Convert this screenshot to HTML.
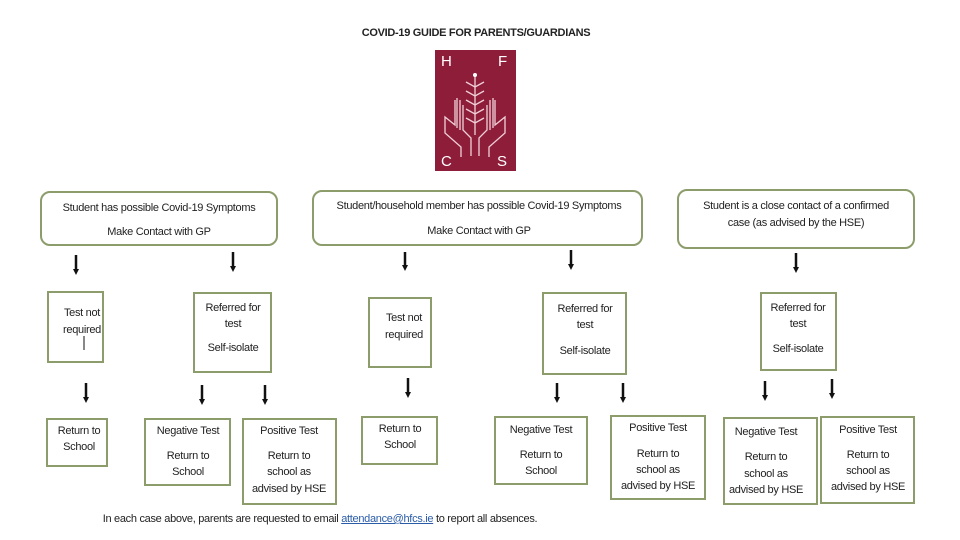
<!DOCTYPE html>
<html><head><meta charset="utf-8"><style>
body{margin:0;width:960px;height:540px;background:#fff;position:relative;overflow:hidden;font-family:"Liberation Sans",sans-serif;color:#222}
.b{position:absolute;border:2px solid #8c9c6a;box-sizing:border-box}
.r{border-radius:10px}
.t{position:absolute;transform:translate(-50%,-50%);white-space:nowrap;font-size:11px;letter-spacing:-0.3px}
a{color:#2a5ca8;text-decoration:underline}
</style></head><body>
<div class="t" style="left:476px;top:33px;font-weight:bold;font-size:11px">COVID-19 GUIDE FOR PARENTS/GUARDIANS</div>

<svg style="position:absolute;left:435px;top:50px" width="81" height="121" viewBox="0 0 81 121">
<rect width="81" height="121" fill="#8e1d3a"/>
<g fill="#fff" font-family="Liberation Sans" font-size="15"><text x="6" y="16">H</text><text x="63" y="16">F</text><text x="6" y="116">C</text><text x="62" y="116">S</text></g>
<g stroke="#f0d0d8" fill="none" stroke-width="1.3">
<line x1="40" y1="26" x2="40" y2="85"/>
<path d="M31 32l9 5 9-5M31 41l9 5 9-5M31 50l9 5 9-5M31 59l9 5 9-5M31 68l9 5 9-5"/>
<path d="M20 50v25l-10-8v16l16 14v10M28 55v25l8 8v18M22 48v30M25 50v30"/>
<path d="M60 50v25l10-8v16l-16 14v10M52 55v25l-8 8v18M58 48v30M55 50v30"/>
</g><circle cx="40" cy="25" r="2" fill="#fff"/>
</svg>

<div class="b r" style="left:40px;top:191px;width:238px;height:55px"></div>
<div class="t" style="left:159px;top:208px">Student has possible Covid-19 Symptoms</div>
<div class="t" style="left:159px;top:232px">Make Contact with GP</div>
<div class="b r" style="left:312px;top:190px;width:331px;height:56px"></div>
<div class="t" style="left:479px;top:206px">Student/household member has possible Covid-19 Symptoms</div>
<div class="t" style="left:479px;top:231px">Make Contact with GP</div>
<div class="b r" style="left:677px;top:189px;width:238px;height:60px"></div>
<div class="t" style="left:796px;top:206px">Student is a close contact of a confirmed</div>
<div class="t" style="left:796px;top:223px">case (as advised by the HSE)</div>

<svg style="position:absolute;left:0;top:0" width="960" height="540">
<defs><marker id="m" markerWidth="6" markerHeight="6" refX="3" refY="3" orient="auto" markerUnits="userSpaceOnUse"><path d="M0,0L6,3L0,6z" fill="#111"/></marker></defs>
<g stroke="#111" stroke-width="2.5" marker-end="url(#m)">
<line x1="76" y1="255" x2="76" y2="272"/><line x1="233" y1="252" x2="233" y2="269"/>
<line x1="405" y1="252" x2="405" y2="268"/><line x1="571" y1="250" x2="571" y2="267"/>
<line x1="796" y1="253" x2="796" y2="270"/>
<line x1="86" y1="383" x2="86" y2="400"/><line x1="202" y1="385" x2="202" y2="402"/>
<line x1="265" y1="385" x2="265" y2="402"/><line x1="408" y1="378" x2="408" y2="395"/>
<line x1="557" y1="383" x2="557" y2="400"/><line x1="623" y1="383" x2="623" y2="400"/>
<line x1="765" y1="381" x2="765" y2="398"/><line x1="832" y1="379" x2="832" y2="396"/>
</g>
<line x1="84" y1="336" x2="84" y2="350" stroke="#111" stroke-width="1"/>
</svg>

<div class="b" style="left:47px;top:291px;width:57px;height:72px"></div>
<div class="t" style="left:82px;top:313px">Test not</div><div class="t" style="left:82px;top:330px">required</div>
<div class="b" style="left:193px;top:292px;width:79px;height:81px"></div>
<div class="t" style="left:233px;top:308px">Referred for</div><div class="t" style="left:233px;top:324px">test</div><div class="t" style="left:233px;top:348px">Self-isolate</div>
<div class="b" style="left:368px;top:297px;width:64px;height:71px"></div>
<div class="t" style="left:404px;top:318px">Test not</div><div class="t" style="left:404px;top:335px">required</div>
<div class="b" style="left:542px;top:292px;width:85px;height:83px"></div>
<div class="t" style="left:585px;top:309px">Referred for</div><div class="t" style="left:585px;top:325px">test</div><div class="t" style="left:585px;top:351px">Self-isolate</div>
<div class="b" style="left:760px;top:292px;width:77px;height:79px"></div>
<div class="t" style="left:798px;top:308px">Referred for</div><div class="t" style="left:798px;top:324px">test</div><div class="t" style="left:798px;top:349px">Self-isolate</div>

<div class="b" style="left:46px;top:418px;width:62px;height:49px"></div>
<div class="t" style="left:79px;top:431px">Return to</div><div class="t" style="left:79px;top:447px">School</div>
<div class="b" style="left:144px;top:418px;width:87px;height:68px"></div>
<div class="t" style="left:188px;top:431px">Negative Test</div><div class="t" style="left:188px;top:456px">Return to</div><div class="t" style="left:188px;top:472px">School</div>
<div class="b" style="left:242px;top:418px;width:95px;height:87px"></div>
<div class="t" style="left:289px;top:431px">Positive Test</div><div class="t" style="left:289px;top:456px">Return to</div><div class="t" style="left:289px;top:472px">school as</div><div class="t" style="left:289px;top:489px">advised by HSE</div>
<div class="b" style="left:361px;top:416px;width:77px;height:49px"></div>
<div class="t" style="left:400px;top:429px">Return to</div><div class="t" style="left:400px;top:445px">School</div>
<div class="b" style="left:494px;top:416px;width:94px;height:69px"></div>
<div class="t" style="left:541px;top:430px">Negative Test</div><div class="t" style="left:541px;top:455px">Return to</div><div class="t" style="left:541px;top:471px">School</div>
<div class="b" style="left:610px;top:415px;width:96px;height:85px"></div>
<div class="t" style="left:658px;top:428px">Positive Test</div><div class="t" style="left:658px;top:454px">Return to</div><div class="t" style="left:658px;top:470px">school as</div><div class="t" style="left:658px;top:486px">advised by HSE</div>
<div class="b" style="left:723px;top:417px;width:95px;height:88px"></div>
<div class="t" style="left:766px;top:432px">Negative Test</div><div class="t" style="left:766px;top:457px">Return to</div><div class="t" style="left:766px;top:474px">school as</div><div class="t" style="left:766px;top:490px">advised by HSE</div>
<div class="b" style="left:820px;top:416px;width:95px;height:88px"></div>
<div class="t" style="left:868px;top:430px">Positive Test</div><div class="t" style="left:868px;top:455px">Return to</div><div class="t" style="left:868px;top:471px">school as</div><div class="t" style="left:868px;top:487px">advised by HSE</div>

<div class="t" style="left:320px;top:519px">In each case above, parents are requested to email <a>attendance@hfcs.ie</a> to report all absences.</div>
</body></html>
